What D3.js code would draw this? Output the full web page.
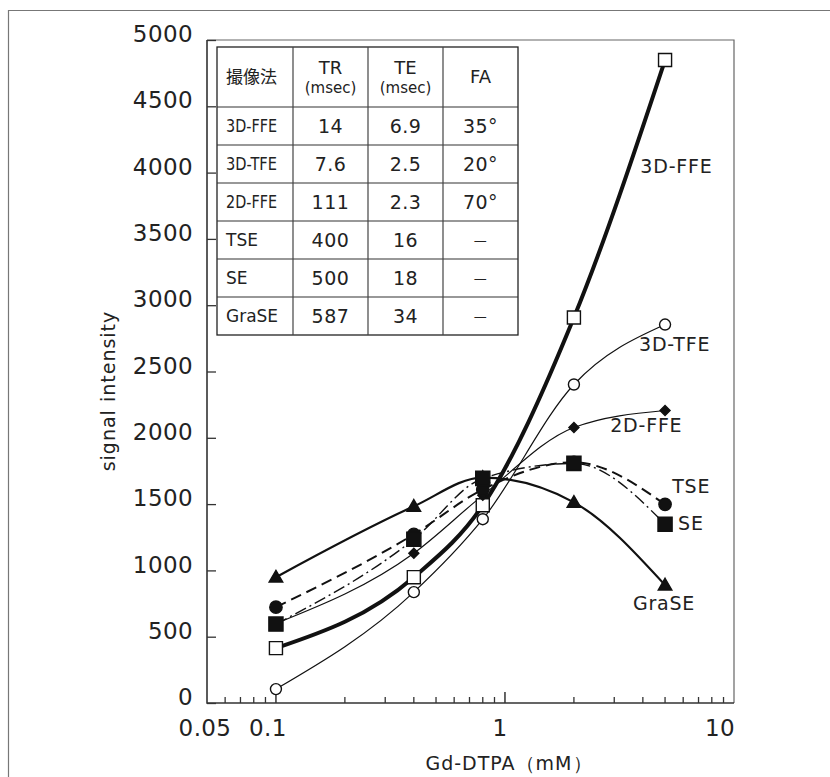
<!DOCTYPE html>
<html>
<head>
<meta charset="utf-8">
<script src="https://cdn.jsdelivr.net/npm/d3@7"></script>
<style>
  body { margin:0; background:#fff; }
  text { font-family: "DejaVu Sans", sans-serif; fill:#222; }
</style>
</head>
<body>
<div id="chart"></div>
<script>
// Gd-DTPA concentration (mM)
var conc = [0.1, 0.4, 0.8, 2, 5];
// signal intensity per sequence
var ffe3d = [414, 949, 1491, 2907, 4849];
var tfe3d = [105, 836, 1386, 2402, 2854];
var ffe2d = [600, 1130, 1566, 2078, 2206];
var tse   = [723, 1272, 1610, 1815, 1498];
var se    = [595, 1235, 1694, 1807, 1348];
var grase = [949, 1483, 1700, 1513, 889];

var yTicks = [0, 500, 1000, 1500, 2000, 2500, 3000, 3500, 4000, 4500, 5000];
var xLabels = [0.05, 0.1, 1, 10];
var xMinor = [0.06, 0.07, 0.08, 0.09, 0.2, 0.3, 0.4, 0.5, 0.6, 0.7, 0.8, 0.9, 2, 3, 4, 5, 6, 7, 8, 9];

// table of acquisition parameters
var tableHead = ["撮像法", "TR", "TE", "FA"];
var tableRows = [
  ["3D-FFE", "14", "6.9", "35°"],
  ["3D-TFE", "7.6", "2.5", "20°"],
  ["2D-FFE", "111", "2.3", "70°"],
  ["TSE", "400", "16", "—"],
  ["SE", "500", "18", "—"],
  ["GraSE", "587", "34", "—"]
];

var W = 830, H = 777;
var svg = d3.select("#chart").append("svg").attr("width", W).attr("height", H);

// outer frame of the figure (runs off the right / bottom)
svg.append("path").attr("d", "M8.5," + H + "V10.5H" + W)
  .attr("fill", "none").attr("stroke", "#777").attr("stroke-width", 1.2);

// note: "top" is a read-only window property, so use other names
var pL = 207, pR = 734, pT = 40, pB = 703;
var x = d3.scaleLog().domain([0.05, 10]).range([pL, pR]);
var y = d3.scaleLinear().domain([0, 5000]).range([pB, pT]);

// plot frame
svg.append("path").attr("d", "M" + pL + "," + pT + "H" + pR + "V" + pB)
  .attr("fill", "none").attr("stroke", "#666").attr("stroke-width", 1.2);
svg.append("path").attr("d", "M" + pL + "," + pT + "V" + pB + "H" + pR)
  .attr("fill", "none").attr("stroke", "#333").attr("stroke-width", 1.6);

// y axis
var yAxis = svg.append("g").attr("transform", "translate(" + pL + ",0)")
  .call(d3.axisLeft(y).tickValues(yTicks).tickSize(-9).tickPadding(14).tickFormat(d3.format("d")));
yAxis.select(".domain").remove();
yAxis.selectAll("line").attr("stroke", "#333").attr("stroke-width", 1.3);
yAxis.selectAll("text").attr("font-size", 23).attr("dy", "0.07em").attr("fill", "#222")
  .style("font-family", "DejaVu Sans").attr("letter-spacing", 0.4);

// x axis ticks
svg.selectAll(".xminor").data(xMinor).enter().append("line")
  .attr("x1", function(d){ return x(d); }).attr("x2", function(d){ return x(d); })
  .attr("y1", pB).attr("y2", pB - 6).attr("stroke", "#333").attr("stroke-width", 1.3);
svg.selectAll(".xmajor").data([0.1, 1]).enter().append("line")
  .attr("x1", function(d){ return x(d); }).attr("x2", function(d){ return x(d); })
  .attr("y1", pB).attr("y2", pB - 11).attr("stroke", "#333").attr("stroke-width", 1.5);

var xLabelShift = {0.05: -2, 0.1: -8, 1: -5, 10: -14};
svg.selectAll(".xlab").data(xLabels).enter().append("text")
  .attr("x", function(d){ return x(d) + xLabelShift[d]; })
  .attr("y", 736).attr("text-anchor", "middle").attr("font-size", 23)
  .attr("letter-spacing", 0.4)
  .text(function(d){ return String(d); });

// axis titles
svg.append("text").attr("x", 509).attr("y", 770).attr("text-anchor", "middle")
  .attr("font-size", 19).attr("letter-spacing", 1).text("Gd-DTPA（mM）");
svg.append("text").attr("transform", "translate(115,391) rotate(-90)")
  .attr("text-anchor", "middle").attr("font-size", 19).attr("letter-spacing", 1)
  .text("signal intensity");

// series
var series = [
  {name: "GraSE",  vals: grase, width: 2.2, dash: null,       sym: "triangle", size: 80,  fill: "#111", lab: [3.62, 753]},
  {name: "3D-TFE", vals: tfe3d, width: 1.2, dash: null,       sym: "circle",   size: 95,  fill: "#fff", lab: [3.85, 2703]},
  {name: "3D-FFE", vals: ffe3d, width: 4,   dash: null,       sym: "square",   size: 170, fill: "#fff", lab: [3.9, 4051]},
  {name: "2D-FFE", vals: ffe2d, width: 1.2, dash: null,       sym: "diamond",  size: 50,  fill: "#111", lab: [2.88, 2093]},
  {name: "TSE",    vals: tse,   width: 2,   dash: "11,6",     sym: "circle",   size: 120, fill: "#111", lab: [5.37, 1634]},
  {name: "SE",     vals: se,    width: 1.4, dash: "12,4,2,4", sym: "square",   size: 200, fill: "#111", lab: [5.7, 1355]}
];

// smooth curve through the measured points
var line = d3.line()
  .x(function(d){ return x(d[0]); })
  .y(function(d){ return y(d[1]); })
  .curve(d3.curveMonotoneX);

series.forEach(function(s){
  var pts = conc.map(function(c, i){ return [c, s.vals[i]]; });
  svg.append("path").attr("d", line(pts)).attr("fill", "none")
    .attr("stroke", "#111").attr("stroke-width", s.width)
    .attr("stroke-dasharray", s.dash);
});

var symTypes = {triangle: d3.symbolTriangle, circle: d3.symbolCircle, square: d3.symbolSquare, diamond: d3.symbolSquare};
series.forEach(function(s){
  var gen = d3.symbol().type(symTypes[s.sym]).size(s.size);
  svg.selectAll(null).data(conc).enter().append("path")
    .attr("d", gen)
    .attr("transform", function(c, i){
      var t = "translate(" + x(c) + "," + y(s.vals[i]) + ")";
      if (s.sym == "diamond") t += " rotate(45)";
      if (s.sym == "triangle") t += " translate(0,1)";
      return t;
    })
    .attr("fill", s.fill).attr("stroke", "#111").attr("stroke-width", 1.4);
});

// series labels
svg.selectAll(".slab").data(series).enter().append("text")
  .attr("x", function(d){ return x(d.lab[0]); })
  .attr("y", function(d){ return y(d.lab[1]); })
  .attr("dy", "0.36em").attr("font-size", 19).attr("letter-spacing", 0.8)
  .text(function(d){ return d.name; });

// table
var tx = 217, ty = 47, colW = [76, 75, 75, 75], headH = 60, rowH = 38;
var colX = [tx];
colW.forEach(function(w, i){ colX.push(colX[i] + w); });
var tb = svg.append("g");
tb.append("rect").attr("x", tx).attr("y", ty)
  .attr("width", colX[4] - tx).attr("height", headH + rowH * tableRows.length)
  .attr("fill", "#fff").attr("stroke", "#222").attr("stroke-width", 1.3);
tableRows.forEach(function(r, i){
  var yy = ty + headH + rowH * i;
  tb.append("line").attr("x1", tx).attr("x2", colX[4]).attr("y1", yy).attr("y2", yy)
    .attr("stroke", "#333").attr("stroke-width", 1.2);
});
colX.slice(1, 4).forEach(function(cx){
  tb.append("line").attr("x1", cx).attr("x2", cx).attr("y1", ty)
    .attr("y2", ty + headH + rowH * tableRows.length).attr("stroke", "#444").attr("stroke-width", 1.2);
});

tb.append("text").attr("x", tx + 9).attr("y", ty + 30).attr("dy", "0.36em")
  .attr("font-size", 17).style("font-family", "Noto Sans CJK JP").text(tableHead[0]);
[1, 2].forEach(function(c){
  var cx = (colX[c] + colX[c + 1]) / 2;
  tb.append("text").attr("x", cx).attr("y", ty + 21).attr("dy", "0.36em")
    .attr("text-anchor", "middle").attr("font-size", 18).text(tableHead[c]);
  tb.append("text").attr("x", cx).attr("y", ty + 41).attr("dy", "0.36em")
    .attr("text-anchor", "middle").attr("font-size", 15).text("(msec)");
});
tb.append("text").attr("x", (colX[3] + colX[4]) / 2).attr("y", ty + 30).attr("dy", "0.36em")
  .attr("text-anchor", "middle").attr("font-size", 18).text(tableHead[3]);

var narrow = {"3D-FFE": 51, "3D-TFE": 51, "2D-FFE": 51};
tableRows.forEach(function(r, i){
  var cy = ty + headH + rowH * i + rowH / 2;
  var t0 = tb.append("text").attr("x", tx + 9).attr("y", cy).attr("dy", "0.36em")
    .attr("font-size", 17).text(r[0]);
  if (narrow[r[0]]) t0.attr("textLength", narrow[r[0]]).attr("lengthAdjust", "spacingAndGlyphs");
  for (var c = 1; c < 4; c++) {
    var dash = r[c] == "—";
    tb.append("text").attr("x", (colX[c] + colX[c + 1]) / 2).attr("y", cy)
      .attr("dy", "0.36em").attr("text-anchor", "middle")
      .attr("font-size", dash ? 13 : 19).attr("letter-spacing", 0.5).text(r[c]);
  }
});
</script>
</body>
</html>
